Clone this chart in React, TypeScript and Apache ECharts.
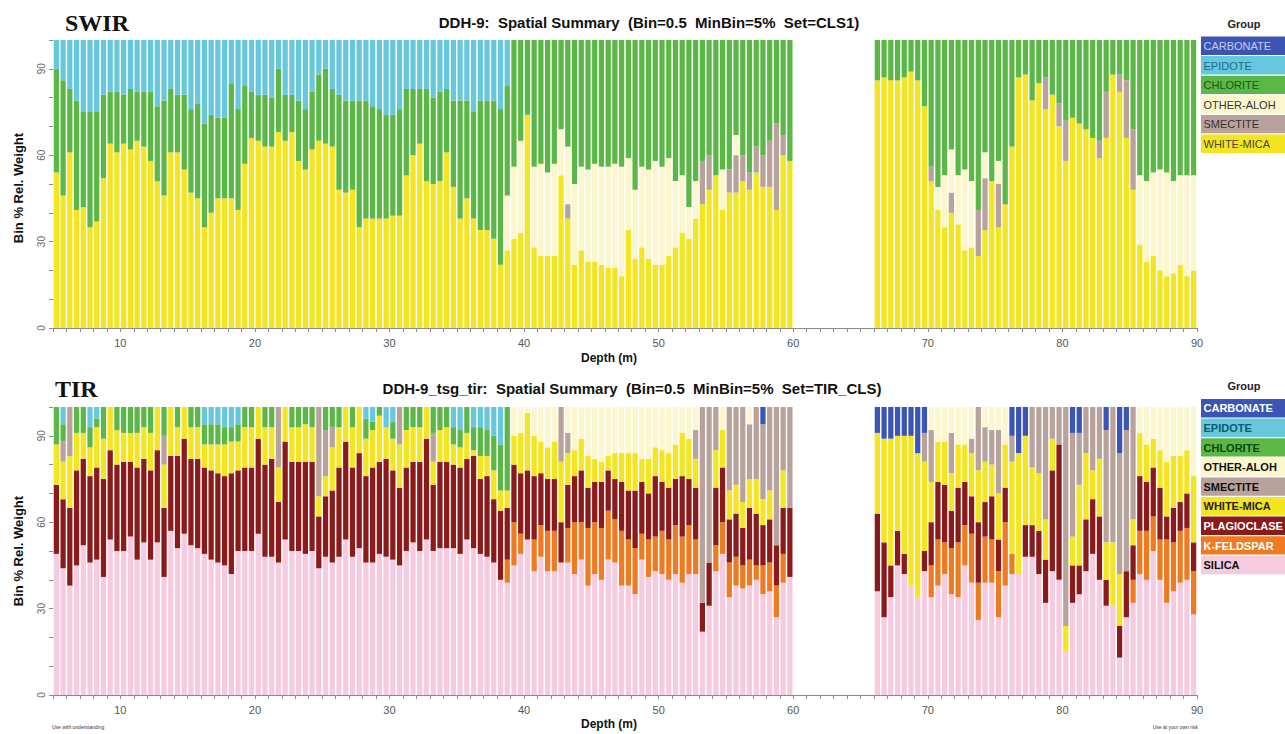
import React, { useEffect, useRef } from "react";
import * as echarts from "echarts";

// ---------- axes / categories ----------
const depthStart = 5;
const binSize = 0.5;
const leftBins = 110; // 5.0 .. 59.5
const gapBins = 12; // 60.0 .. 65.5 (no data)
const rightBins = 48; // 66.0 .. 89.5
const xTickLabels = ["10", "20", "30", "40", "50", "60", "70", "80", "90"];
const yTickLabels = ["0", "30", "60", "90"];

// ---------- groups ----------
const swirGroups = ["CARBONATE", "EPIDOTE", "CHLORITE", "OTHER-ALOH", "SMECTITE", "WHITE-MICA"];
const tirGroups = ["CARBONATE", "EPIDOTE", "CHLORITE", "OTHER-ALOH", "SMECTITE", "WHITE-MICA", "PLAGIOCLASE", "K-FELDSPAR", "SILICA"];

const groupColors: Record<string, string> = {
  CARBONATE: "#3b55b5",
  EPIDOTE: "#66c7dd",
  CHLORITE: "#5bb846",
  "OTHER-ALOH": "#fcf6cd",
  SMECTITE: "#b9a29c",
  "WHITE-MICA": "#f4e520",
  PLAGIOCLASE: "#8b1a1a",
  "K-FELDSPAR": "#ee7a22",
  SILICA: "#f6cadf",
};
const swirLegendText: Record<string, string> = {
  CARBONATE: "#c3cdf2", EPIDOTE: "#176f8c", CHLORITE: "#17561a", "OTHER-ALOH": "#333333", SMECTITE: "#333333", "WHITE-MICA": "#444444",
};
const tirLegendText: Record<string, string> = {
  CARBONATE: "#ffffff", EPIDOTE: "#0c5a6c", CHLORITE: "#0b470b", "OTHER-ALOH": "#111111", SMECTITE: "#111111", "WHITE-MICA": "#222222",
  PLAGIOCLASE: "#ffffff", "K-FELDSPAR": "#ffffff", SILICA: "#111111",
};

// ---------- SWIR data (Bin % Rel. Weight) ----------
// left section: 5.0 – 59.5 m
const swirWhiteMicaLeft = [
  54, 46, 61, 41, 42, 35, 37, 52, 64, 61,
  64, 62, 65, 63, 58, 51, 46, 61, 61, 55,
  47, 45, 35, 40, 45, 45, 45, 41, 57, 66,
  65, 63, 63, 68, 65, 68, 58, 55, 62, 65,
  64, 63, 48, 47, 48, 35, 38, 38, 38, 38,
  39, 39, 53, 60, 64, 51, 50, 51, 61, 49,
  38, 45, 38, 34, 34, 31, 22, 27, 31, 33,
  74, 28, 25, 25, 25, 53, 38, 22, 27, 23,
  23, 22, 21, 21, 18, 34, 24, 28, 24, 22,
  22, 25, 28, 33, 31, 38, 43, 48, 53, 41,
  47, 47, 51, 48, 54, 49, 49, 41, 60, 58,
];
const swirSmectiteLeft = [
  0, 0, 0, 0, 0, 0, 0, 0, 0, 0,
  0, 0, 0, 0, 0, 0, 0, 0, 0, 0,
  0, 0, 0, 0, 0, 0, 0, 0, 0, 0,
  0, 0, 0, 0, 0, 0, 0, 0, 0, 0,
  0, 0, 0, 0, 0, 0, 0, 0, 0, 0,
  0, 0, 0, 0, 0, 0, 0, 0, 0, 0,
  0, 0, 0, 0, 0, 0, 0, 0, 0, 0,
  0, 0, 0, 0, 0, 0, 5, 0, 0, 0,
  0, 0, 0, 0, 0, 0, 0, 0, 0, 0,
  0, 0, 0, 0, 0, 0, 15, 12, 0, 0,
  8, 13, 9, 6, 9, 11, 16, 30, 7, 0,
];
const swirOtherAlohLeft = [
  0, 0, 0, 0, 0, 0, 0, 0, 0, 0,
  0, 0, 0, 0, 0, 0, 0, 0, 0, 0,
  0, 0, 0, 0, 0, 0, 0, 0, 0, 0,
  0, 0, 0, 0, 0, 0, 0, 0, 0, 0,
  0, 0, 0, 0, 0, 0, 0, 0, 0, 0,
  0, 0, 0, 0, 0, 0, 0, 0, 0, 0,
  0, 0, 0, 0, 0, 0, 0, 19, 25, 32,
  0, 28, 32, 29, 32, 16, 20, 28, 29, 32,
  34, 34, 35, 36, 38, 25, 24, 28, 31, 36,
  34, 34, 23, 20, 11, 13, 0, 0, 0, 14,
  0, 7, 0, 0, 0, 0, 0, 0, 0, 0,
];
const swirChloriteLeft = [
  36, 40, 22, 38, 33, 40, 38, 29, 18, 21,
  17, 21, 17, 19, 24, 26, 33, 22, 20, 26,
  29, 33, 36, 34, 28, 28, 40, 35, 27, 16,
  16, 18, 17, 22, 16, 13, 21, 21, 20, 23,
  26, 20, 33, 32, 31, 44, 41, 39, 38, 36,
  35, 37, 30, 23, 19, 32, 30, 31, 22, 30,
  41, 34, 37, 45, 45, 48, 54, 38, 44, 35,
  26, 44, 43, 46, 43, 31, 37, 50, 44, 45,
  43, 44, 44, 43, 44, 41, 52, 44, 45, 42,
  44, 41, 49, 47, 58, 49, 42, 40, 47, 45,
  45, 33, 40, 46, 37, 40, 35, 29, 33, 42,
];
const swirEpidoteLeft = [
  10, 14, 17, 21, 25, 25, 25, 19, 18, 18,
  19, 17, 18, 18, 18, 23, 21, 17, 19, 19,
  24, 22, 29, 26, 27, 27, 15, 24, 16, 18,
  19, 19, 20, 10, 19, 19, 21, 24, 18, 12,
  10, 17, 19, 21, 21, 21, 21, 23, 24, 26,
  26, 24, 17, 17, 17, 17, 20, 18, 17, 21,
  21, 21, 25, 21, 21, 21, 24, 16, 0, 0,
  0, 0, 0, 0, 0, 0, 0, 0, 0, 0,
  0, 0, 0, 0, 0, 0, 0, 0, 0, 0,
  0, 0, 0, 0, 0, 0, 0, 0, 0, 0,
  0, 0, 0, 0, 0, 0, 0, 0, 0, 0,
];
// right section: 66.0 – 89.5 m
const swirWhiteMicaRight = [
  86, 87, 86, 86, 87, 89, 86, 77, 51, 41,
  35, 40, 36, 27, 28, 25, 34, 51, 35, 43,
  63, 87, 88, 79, 85, 76, 81, 70, 58, 73,
  71, 69, 66, 59, 66, 88, 82, 66, 48, 29,
  23, 25, 20, 18, 19, 22, 18, 20,
];
const swirSmectiteRight = [
  0, 0, 0, 0, 0, 0, 0, 0, 5, 0,
  0, 7, 0, 0, 0, 16, 18, 0, 15, 0,
  0, 0, 0, 0, 0, 11, 0, 8, 14, 0,
  0, 0, 0, 6, 16, 0, 6, 20, 21, 0,
  0, 0, 0, 0, 0, 0, 0, 0,
];
const swirOtherAlohRight = [
  0, 0, 0, 0, 0, 0, 0, 0, 0, 8,
  18, 15, 17, 28, 23, 0, 9, 0, 8, 0,
  0, 0, 0, 0, 0, 0, 0, 0, 0, 0,
  0, 0, 0, 0, 0, 0, 0, 0, 0, 24,
  28, 29, 35, 36, 32, 31, 35, 33,
];
const swirChloriteRight = [
  14, 13, 14, 14, 13, 11, 14, 23, 44, 51,
  47, 38, 47, 45, 49, 59, 39, 49, 42, 57,
  37, 13, 12, 21, 15, 13, 19, 22, 28, 27,
  29, 31, 34, 35, 18, 12, 12, 14, 31, 47,
  49, 46, 45, 46, 49, 47, 47, 47,
];

// ---------- TIR data ----------
const tirSilicaLeft = [
  49, 44, 38, 45, 52, 46, 47, 41, 54, 50,
  50, 55, 47, 53, 47, 53, 41, 57, 51, 56,
  52, 51, 49, 47, 46, 45, 42, 50, 50, 50,
  56, 48, 48, 46, 54, 50, 50, 49, 50, 44,
  48, 46, 48, 54, 48, 51, 46, 46, 49, 48,
  47, 45, 50, 53, 50, 54, 50, 51, 51, 51,
  49, 54, 51, 49, 48, 46, 40, 39, 45, 49,
  54, 43, 48, 43, 43, 46, 46, 42, 47, 38,
  42, 40, 47, 46, 38, 38, 35, 47, 41, 43,
  42, 40, 42, 39, 42, 42, 22, 31, 43, 49,
  34, 38, 37, 38, 40, 35, 36, 27, 39, 41,
];
const tirKFeldsparLeft = [
  0, 0, 0, 0, 0, 0, 0, 0, 0, 0,
  0, 0, 0, 0, 0, 0, 0, 0, 0, 0,
  0, 0, 0, 0, 0, 0, 0, 0, 0, 0,
  0, 0, 0, 0, 0, 0, 0, 0, 0, 0,
  0, 0, 0, 0, 0, 0, 0, 0, 0, 0,
  0, 0, 0, 0, 0, 0, 0, 0, 0, 0,
  0, 0, 0, 0, 0, 0, 0, 8, 15, 7,
  0, 11, 11, 14, 14, 0, 12, 18, 13, 20,
  18, 18, 17, 15, 19, 16, 16, 9, 13, 12,
  15, 14, 17, 16, 17, 12, 0, 0, 9, 11,
  12, 10, 8, 9, 5, 10, 10, 11, 10, 0,
];
const tirPlagioclaseLeft = [
  24, 24, 27, 33, 30, 30, 32, 34, 31, 30,
  31, 26, 32, 29, 31, 32, 24, 26, 32, 33,
  30, 31, 30, 31, 31, 31, 35, 28, 29, 29,
  33, 32, 34, 21, 34, 31, 31, 32, 31, 18,
  21, 25, 31, 34, 31, 33, 30, 33, 32, 34,
  31, 27, 29, 28, 31, 35, 23, 30, 30, 29,
  30, 28, 32, 26, 28, 22, 24, 18, 20, 21,
  24, 22, 18, 18, 18, 14, 15, 16, 18, 14,
  14, 16, 14, 14, 17, 17, 20, 18, 16, 21,
  17, 18, 16, 21, 16, 18, 10, 15, 20, 19,
  15, 15, 13, 18, 18, 14, 15, 14, 16, 24,
];
const tirWhiteMicaLeft = [
  14, 13, 18, 13, 9, 10, 14, 14, 15, 12,
  10, 10, 12, 11, 13, 15, 15, 17, 10, 11,
  11, 11, 8, 9, 10, 11, 11, 10, 14, 14,
  11, 13, 11, 12, 12, 12, 12, 13, 12, 7,
  7, 15, 14, 12, 14, 16, 13, 13, 16, 11,
  11, 15, 13, 12, 12, 11, 8, 11, 12, 7,
  7, 9, 2, 8, 7, 10, 7, 6, 10, 14,
  20, 14, 11, 11, 13, 21, 11, 9, 11, 11,
  8, 7, 5, 9, 10, 13, 13, 8, 12, 10,
  11, 12, 12, 15, 14, 10, 0, 0, 13, 13,
  10, 10, 9, 10, 12, 9, 10, 0, 13, 0,
];
const tirSmectiteLeft = [
  0, 7, 17, 0, 0, 0, 0, 0, 0, 0,
  0, 0, 0, 0, 0, 0, 10, 0, 0, 0,
  0, 0, 0, 0, 0, 0, 0, 0, 0, 0,
  0, 0, 0, 21, 0, 0, 0, 0, 0, 31,
  16, 7, 0, 0, 0, 0, 0, 0, 0, 0,
  0, 13, 0, 0, 0, 0, 10, 0, 0, 0,
  0, 0, 0, 0, 0, 0, 0, 0, 0, 0,
  0, 0, 0, 0, 0, 19, 7, 0, 0, 0,
  0, 0, 0, 0, 0, 0, 0, 0, 0, 0,
  0, 0, 0, 0, 0, 10, 68, 54, 15, 0,
  29, 27, 33, 19, 25, 26, 29, 48, 22, 35,
];
const tirOtherAlohLeft = [
  0, 0, 0, 0, 0, 0, 0, 0, 0, 0,
  0, 0, 0, 0, 0, 0, 0, 0, 0, 0,
  0, 0, 0, 0, 0, 0, 0, 0, 0, 0,
  0, 0, 0, 0, 0, 0, 0, 0, 0, 0,
  0, 0, 0, 0, 0, 0, 0, 0, 0, 0,
  0, 0, 0, 0, 0, 0, 0, 0, 0, 0,
  0, 0, 0, 0, 0, 0, 0, 0, 10, 9,
  2, 10, 12, 14, 12, 0, 9, 15, 11, 17,
  18, 19, 17, 16, 16, 16, 16, 18, 18, 14,
  15, 16, 13, 9, 11, 8, 0, 0, 0, 8,
  0, 0, 0, 6, 0, 0, 0, 0, 0, 0,
];
const tirChloriteLeft = [
  13, 6, 0, 9, 9, 7, 3, 11, 0, 8,
  9, 9, 9, 7, 9, 0, 10, 0, 7, 0,
  7, 7, 7, 7, 7, 6, 5, 6, 7, 7,
  0, 7, 7, 0, 0, 7, 7, 6, 7, 0,
  8, 7, 7, 0, 7, 0, 7, 3, 3, 0,
  6, 0, 8, 7, 7, 0, 9, 8, 7, 6,
  6, 9, 8, 10, 9, 12, 16, 29, 0, 0,
  0, 0, 0, 0, 0, 0, 0, 0, 0, 0,
  0, 0, 0, 0, 0, 0, 0, 0, 0, 0,
  0, 0, 0, 0, 0, 0, 0, 0, 0, 0,
  0, 0, 0, 0, 0, 0, 0, 0, 0, 0,
];
const tirEpidoteLeft = [
  0, 6, 0, 0, 0, 7, 4, 0, 0, 0,
  0, 0, 0, 0, 0, 0, 0, 0, 0, 0,
  0, 0, 6, 6, 6, 7, 7, 6, 0, 0,
  0, 0, 0, 0, 0, 0, 0, 0, 0, 0,
  0, 0, 0, 0, 0, 0, 4, 5, 0, 7,
  5, 0, 0, 0, 0, 0, 0, 0, 0, 7,
  8, 0, 7, 7, 8, 10, 13, 0, 0, 0,
  0, 0, 0, 0, 0, 0, 0, 0, 0, 0,
  0, 0, 0, 0, 0, 0, 0, 0, 0, 0,
  0, 0, 0, 0, 0, 0, 0, 0, 0, 0,
  0, 0, 0, 0, 0, 0, 0, 0, 0, 0,
];
const tirCarbonateLeft = [
  0, 0, 0, 0, 0, 0, 0, 0, 0, 0,
  0, 0, 0, 0, 0, 0, 0, 0, 0, 0,
  0, 0, 0, 0, 0, 0, 0, 0, 0, 0,
  0, 0, 0, 0, 0, 0, 0, 0, 0, 0,
  0, 0, 0, 0, 0, 0, 0, 0, 0, 0,
  0, 0, 0, 0, 0, 0, 0, 0, 0, 0,
  0, 0, 0, 0, 0, 0, 0, 0, 0, 0,
  0, 0, 0, 0, 0, 0, 0, 0, 0, 0,
  0, 0, 0, 0, 0, 0, 0, 0, 0, 0,
  0, 0, 0, 0, 0, 0, 0, 0, 0, 0,
  0, 0, 0, 0, 0, 6, 0, 0, 0, 0,
];
const tirSilicaRight = [
  36, 27, 34, 45, 42, 38, 34, 43, 34, 38,
  42, 35, 34, 45, 39, 26, 39, 39, 27, 38,
  42, 42, 48, 48, 42, 32, 43, 40, 15, 32,
  35, 43, 49, 40, 31, 31, 13, 27, 32, 42,
  40, 50, 40, 32, 36, 39, 40, 28,
];
const tirKFeldsparRight = [
  0, 0, 0, 0, 0, 0, 0, 0, 11, 16,
  11, 16, 19, 14, 17, 13, 16, 15, 16, 22,
  7, 0, 0, 0, 0, 0, 0, 0, 0, 0,
  0, 0, 0, 0, 0, 0, 0, 0, 8, 15,
  17, 12, 14, 22, 17, 18, 18, 15,
];
const tirPlagioclaseRight = [
  27, 26, 11, 12, 7, 0, 0, 7, 15, 20,
  20, 13, 19, 15, 13, 21, 12, 15, 11, 12,
  0, 0, 11, 11, 15, 15, 35, 47, 0, 13,
  10, 18, 19, 22, 9, 0, 11, 16, 12, 19,
  17, 17, 18, 8, 12, 10, 12, 10,
];
const tirWhiteMicaRight = [
  28, 36, 44, 33, 41, 52, 50, 31, 14, 14,
  15, 13, 15, 13, 15, 18, 14, 11, 16, 15,
  32, 42, 31, 20, 20, 14, 11, 0, 9, 10,
  28, 23, 10, 20, 13, 22, 18, 0, 9, 15,
  13, 10, 13, 19, 18, 16, 15, 23,
];
const tirSmectiteRight = [
  0, 0, 0, 0, 0, 0, 0, 10, 18, 0,
  0, 14, 0, 0, 5, 22, 12, 12, 22, 0,
  9, 0, 0, 21, 23, 39, 11, 13, 76, 36,
  18, 16, 22, 18, 39, 47, 42, 49, 39, 0,
  0, 0, 0, 0, 0, 0, 0, 0,
];
const tirOtherAlohRight = [
  0, 0, 0, 0, 0, 0, 0, 0, 8, 12,
  12, 9, 13, 13, 11, 0, 7, 8, 8, 13,
  0, 0, 0, 0, 0, 0, 0, 0, 0, 0,
  0, 0, 0, 0, 0, 0, 0, 0, 0, 9,
  13, 11, 15, 19, 17, 17, 15, 24,
];
const tirCarbonateRight = [
  9, 11, 11, 10, 10, 10, 16, 9, 0, 0,
  0, 0, 0, 0, 0, 0, 0, 0, 0, 0,
  10, 16, 10, 0, 0, 0, 0, 0, 0, 9,
  9, 0, 0, 0, 8, 0, 16, 8, 0, 0,
  0, 0, 0, 0, 0, 0, 0, 0,
];

// ---------- helpers ----------
const bins: string[] = [];
for (let i = 0; i < leftBins + gapBins + rightBins; i++) bins.push((depthStart + i * binSize).toFixed(1));

function joinSections(left: number[] | null, right: number[] | null) {
  const l = left ?? new Array(leftBins).fill(null);
  const r = right ?? new Array(rightBins).fill(null);
  return [...l, ...new Array(gapBins).fill(null), ...r].map((v) => (v === 0 ? null : v));
}

const swirSeriesData: [string, (number | null)[]][] = [
  ["WHITE-MICA", joinSections(swirWhiteMicaLeft, swirWhiteMicaRight)],
  ["SMECTITE", joinSections(swirSmectiteLeft, swirSmectiteRight)],
  ["OTHER-ALOH", joinSections(swirOtherAlohLeft, swirOtherAlohRight)],
  ["CHLORITE", joinSections(swirChloriteLeft, swirChloriteRight)],
  ["EPIDOTE", joinSections(swirEpidoteLeft, null)],
];
const tirSeriesData: [string, (number | null)[]][] = [
  ["SILICA", joinSections(tirSilicaLeft, tirSilicaRight)],
  ["K-FELDSPAR", joinSections(tirKFeldsparLeft, tirKFeldsparRight)],
  ["PLAGIOCLASE", joinSections(tirPlagioclaseLeft, tirPlagioclaseRight)],
  ["WHITE-MICA", joinSections(tirWhiteMicaLeft, tirWhiteMicaRight)],
  ["SMECTITE", joinSections(tirSmectiteLeft, tirSmectiteRight)],
  ["OTHER-ALOH", joinSections(tirOtherAlohLeft, tirOtherAlohRight)],
  ["CHLORITE", joinSections(tirChloriteLeft, null)],
  ["EPIDOTE", joinSections(tirEpidoteLeft, null)],
  ["CARBONATE", joinSections(tirCarbonateLeft, tirCarbonateRight)],
];

const GRID_LEFT = 53;
const GRID_WIDTH = 1144;
const GRID_H = 288;
const GRID_TOPS = [40, 407];
const SANS = '"Liberation Sans", Arial, sans-serif';

function legendGraphics(groups: string[], top: number, textColors: Record<string, string>, bold: boolean) {
  const els: any[] = [
    {
      type: "text",
      x: 1244,
      y: top - 13,
      style: { text: "Group", font: `bold 11px ${SANS}`, fill: "#222", align: "center", verticalAlign: "middle", textAlign: "center", textVerticalAlign: "middle" },
    },
  ];
  groups.forEach((g, i) => {
    const y = top + i * 19.6;
    els.push({ type: "rect", shape: { x: 1201, y, width: 84, height: 18.4 }, style: { fill: groupColors[g] } });
    els.push({
      type: "text",
      x: 1203.5,
      y: y + 9.4,
      style: {
        text: g,
        font: `${bold ? "bold " : ""}11px ${SANS}`,
        fill: textColors[g],
        verticalAlign: "middle",
        textVerticalAlign: "middle",
      },
    });
  });
  return els;
}

function makeXAxes(gridIndex: number) {
  return [
    { type: "category", gridIndex, data: bins, show: false, boundaryGap: true },
    {
      type: "value",
      gridIndex,
      min: 5,
      max: 90,
      interval: 1,
      position: "bottom",
      axisLine: { show: true, lineStyle: { color: "#8a8a8a", width: 1 } },
      axisTick: { show: true, length: 4, lineStyle: { color: "#8a8a8a" } },
      axisLabel: {
        color: "#555",
        fontSize: 11,
        fontFamily: SANS,
        margin: 9,
        formatter: (v: number) => (xTickLabels.includes(String(v)) ? String(v) : ""),
      },
      splitLine: { show: false },
    },
  ];
}

function makeYAxis(gridIndex: number) {
  return {
    type: "value",
    gridIndex,
    min: 0,
    max: 100,
    interval: 10,
    axisLine: { show: false },
    axisTick: { show: true, length: 4, lineStyle: { color: "#8a8a8a" } },
    axisLabel: {
      rotate: 90,
      color: "#666",
      fontSize: 10,
      fontFamily: SANS,
      margin: 7,
      formatter: (v: number) => (yTickLabels.includes(String(v)) ? String(v) : ""),
    },
    splitLine: { show: false },
  };
}

function makeSeries(list: [string, (number | null)[]][], gridIndex: number) {
  return list.map(([name, data]) => ({
    type: "bar",
    name,
    data,
    xAxisIndex: gridIndex * 2,
    yAxisIndex: gridIndex,
    stack: "stack" + gridIndex,
    barCategoryGap: "22%",
    itemStyle: { color: groupColors[name] },
    silent: true,
  }));
}

export default function App() {
  const ref = useRef<HTMLDivElement>(null);
  useEffect(() => {
    if (!ref.current) return;
    const chart = echarts.init(ref.current, null, { renderer: "svg" });
    const graphics: any[] = [
      { type: "text", x: 65, y: 23, style: { text: "SWIR", font: 'bold 24px "Liberation Serif", "Times New Roman", serif', fill: "#111", verticalAlign: "middle", textVerticalAlign: "middle" } },
      { type: "text", x: 55, y: 389, style: { text: "TIR", font: 'bold 24px "Liberation Serif", "Times New Roman", serif', fill: "#111", verticalAlign: "middle", textVerticalAlign: "middle" } },
      { type: "text", x: 649, y: 22, style: { text: "DDH-9:  Spatial Summary  (Bin=0.5  MinBin=5%  Set=CLS1)", font: `bold 15px ${SANS}`, fill: "#111", align: "center", verticalAlign: "middle", textAlign: "center", textVerticalAlign: "middle" } },
      { type: "text", x: 632, y: 388, style: { text: "DDH-9_tsg_tir:  Spatial Summary  (Bin=0.5  MinBin=5%  Set=TIR_CLS)", font: `bold 15px ${SANS}`, fill: "#111", align: "center", verticalAlign: "middle", textAlign: "center", textVerticalAlign: "middle" } },
      { type: "text", x: 18, y: 188, rotation: Math.PI / 2, style: { text: "Bin % Rel. Weight", font: `bold 13px ${SANS}`, fill: "#111", align: "center", verticalAlign: "middle", textAlign: "center", textVerticalAlign: "middle" } },
      { type: "text", x: 18, y: 551, rotation: Math.PI / 2, style: { text: "Bin % Rel. Weight", font: `bold 13px ${SANS}`, fill: "#111", align: "center", verticalAlign: "middle", textAlign: "center", textVerticalAlign: "middle" } },
      { type: "text", x: 609, y: 358, style: { text: "Depth (m)", font: `bold 12px ${SANS}`, fill: "#111", align: "center", verticalAlign: "middle", textAlign: "center", textVerticalAlign: "middle" } },
      { type: "text", x: 609, y: 724, style: { text: "Depth (m)", font: `bold 12px ${SANS}`, fill: "#111", align: "center", verticalAlign: "middle", textAlign: "center", textVerticalAlign: "middle" } },
      { type: "text", x: 52, y: 727, style: { text: "Use with understanding", font: `5px ${SANS}`, fill: "#333", verticalAlign: "middle", textVerticalAlign: "middle" } },
      { type: "text", x: 1198, y: 727, style: { text: "Use at your own risk", font: `5px ${SANS}`, fill: "#333", align: "right", verticalAlign: "middle", textAlign: "right", textVerticalAlign: "middle" } },
      ...legendGraphics(swirGroups, 36.5, swirLegendText, false),
      ...legendGraphics(tirGroups, 399, tirLegendText, true),
    ];
    chart.setOption({
      animation: false,
      backgroundColor: "#ffffff",
      grid: GRID_TOPS.map((top) => ({ left: GRID_LEFT, top, width: GRID_WIDTH, height: GRID_H })),
      xAxis: [...makeXAxes(0), ...makeXAxes(1)],
      yAxis: [makeYAxis(0), makeYAxis(1)],
      series: [...makeSeries(swirSeriesData, 0), ...makeSeries(tirSeriesData, 1)],
      graphic: graphics,
    });
    return () => chart.dispose();
  }, []);
  return (
    <div
      ref={ref}
      style={{ position: "absolute", left: 0, top: 0, width: 1285, height: 734, background: "#fff" }}
    />
  );
}
